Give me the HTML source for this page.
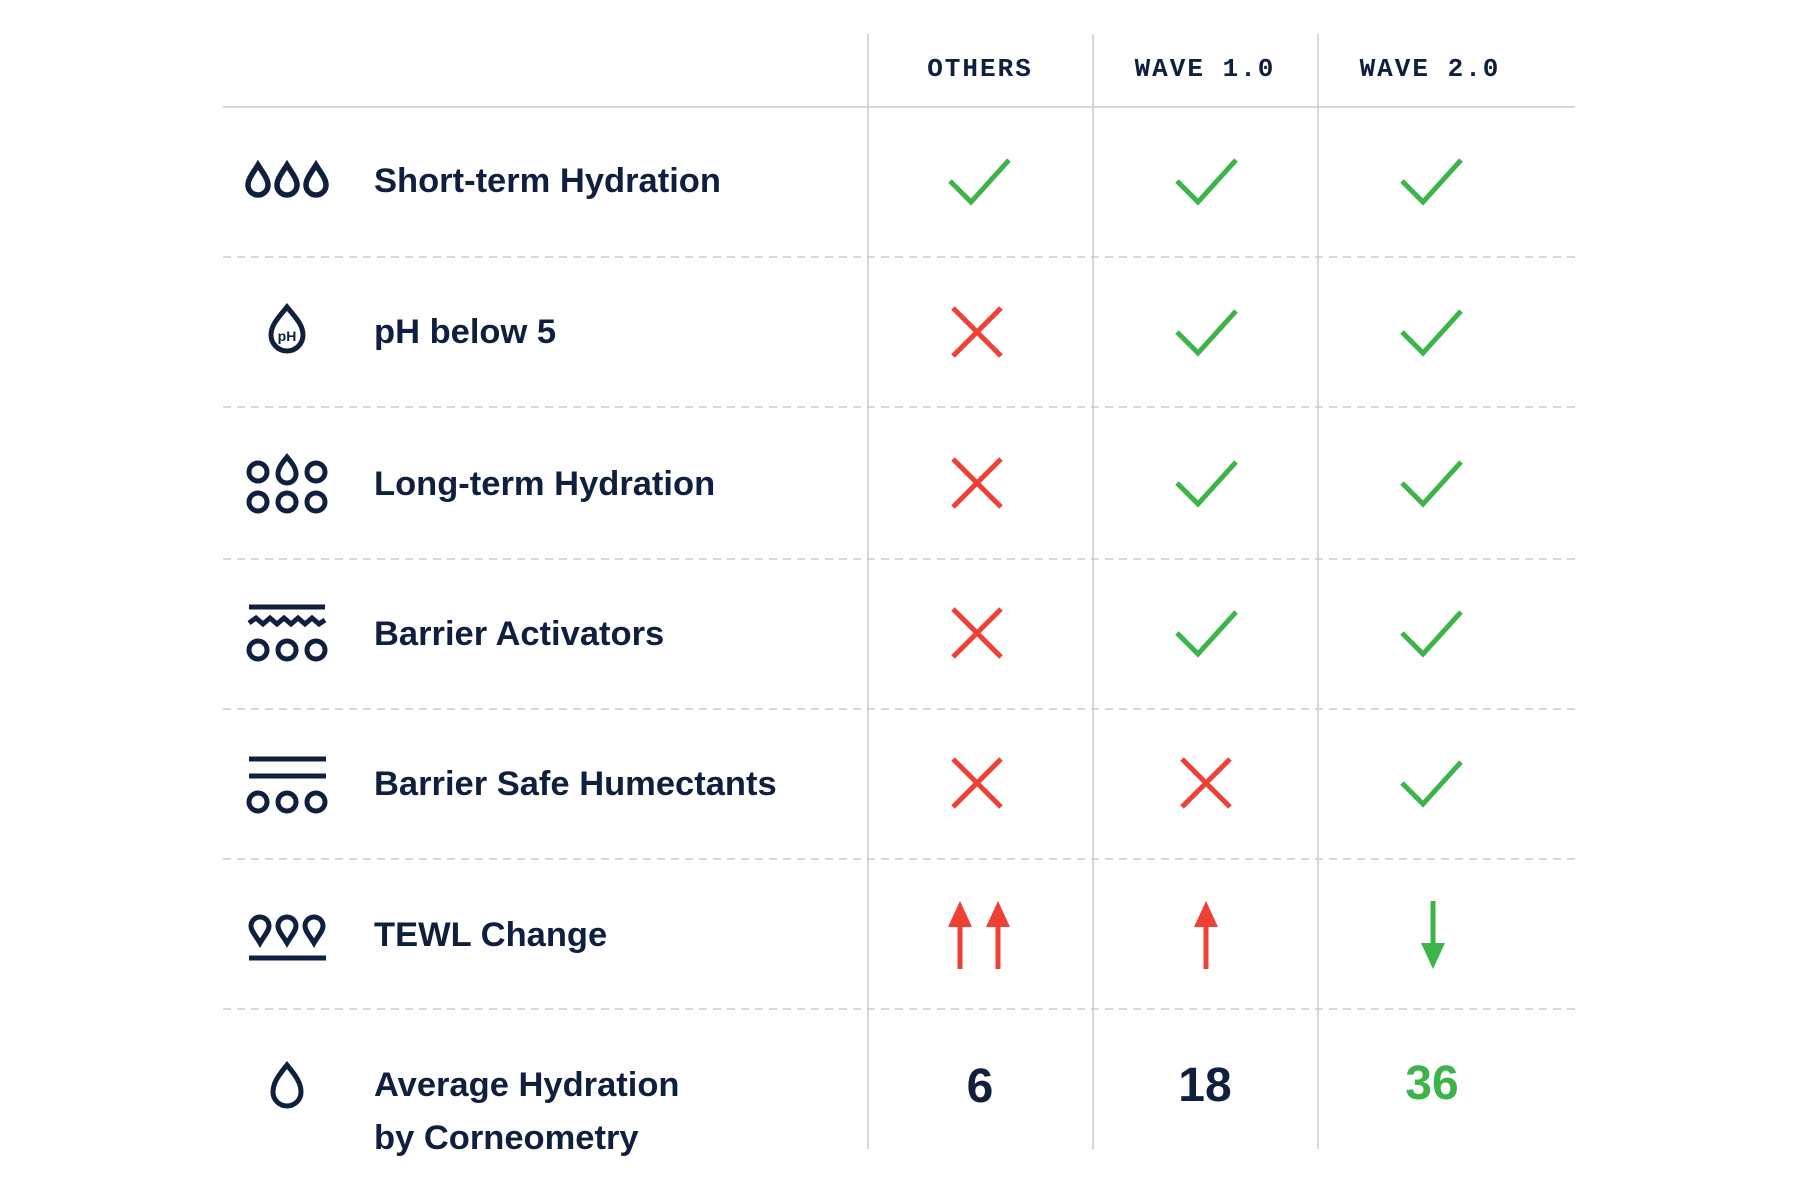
<!DOCTYPE html>
<html><head><meta charset="utf-8"><style>
html,body{margin:0;padding:0;background:#fff;}
svg{display:block}
.h{font-family:"Liberation Mono",monospace;font-weight:bold;font-size:26px;fill:#0f1f3d;letter-spacing:2px;text-anchor:middle}
.l{font-family:"Liberation Sans",sans-serif;font-weight:bold;font-size:34.5px;fill:#0f1f3d}
.n{font-family:"Liberation Sans",sans-serif;font-weight:bold;font-size:48px;text-anchor:middle}
</style></head><body>
<svg width="1800" height="1200" viewBox="0 0 1800 1200" xmlns="http://www.w3.org/2000/svg">
<defs>
<g id="ck"><polyline points="-30,0 -9,21 29,-21" fill="none" stroke="#3cb44a" stroke-width="5"/></g>
<g id="x"><path d="M-24,-24L24,24M24,-24L-24,24" stroke="#ee4035" stroke-width="5"/></g>
<g id="drop"><path d="M0,-15 C5,-7 10,-1 10,5 A10,10 0 0 1 -10,5 C-10,-1 -5,-7 0,-15Z" fill="none" stroke="#0f1f3d" stroke-width="5.5"/></g>
<g id="pin"><path d="M0,14 C-4,7 -9,2 -9,-3 A9,9 0 0 1 9,-3 C9,2 4,7 0,14Z" fill="none" stroke="#0f1f3d" stroke-width="5"/></g>
<g id="up"><path d="M0,-34 L12,-8 L2.5,-8 L2.5,34 L-2.5,34 L-2.5,-8 L-12,-8Z" fill="#ee4035"/></g>
</defs>
<g stroke="#cccccc" stroke-width="1.5">
<line x1="868" y1="34" x2="868" y2="1149"/>
<line x1="1093" y1="34" x2="1093" y2="1149"/>
<line x1="1318" y1="34" x2="1318" y2="1149"/>
<line x1="223" y1="107" x2="1575" y2="107"/>
</g>
<g stroke="#cccccc" stroke-width="1.5" stroke-dasharray="8,6">
<line x1="223" y1="257" x2="1575" y2="257"/>
<line x1="223" y1="407" x2="1575" y2="407"/>
<line x1="223" y1="559" x2="1575" y2="559"/>
<line x1="223" y1="709" x2="1575" y2="709"/>
<line x1="223" y1="859" x2="1575" y2="859"/>
<line x1="223" y1="1009" x2="1575" y2="1009"/>
</g>
<text class="h" x="980" y="76">OTHERS</text>
<text class="h" x="1205" y="76">WAVE 1.0</text>
<text class="h" x="1430" y="76">WAVE 2.0</text>
<text class="l" x="374" y="192">Short-term Hydration</text>
<text class="l" x="374" y="343">pH below 5</text>
<text class="l" x="374" y="495">Long-term Hydration</text>
<text class="l" x="374" y="645">Barrier Activators</text>
<text class="l" x="374" y="795">Barrier Safe Humectants</text>
<text class="l" x="374" y="946">TEWL Change</text>
<text class="l" x="374" y="1096">Average Hydration</text>
<text class="l" x="374" y="1149">by Corneometry</text>
<use href="#drop" x="258" y="180"/><use href="#drop" x="287" y="180"/><use href="#drop" x="316" y="180"/>
<path d="M287,307 C296,318 303,325 303,335 A16,16 0 0 1 271,335 C271,325 278,318 287,307Z" fill="none" stroke="#0f1f3d" stroke-width="5"/>
<text x="287" y="341" font-family="Liberation Sans,sans-serif" font-weight="bold" font-size="14" fill="#0f1f3d" text-anchor="middle">pH</text>
<g fill="none" stroke="#0f1f3d" stroke-width="5">
<circle cx="258" cy="472" r="9"/><circle cx="316" cy="472" r="9"/>
<circle cx="258" cy="502" r="9"/><circle cx="287" cy="502" r="9"/><circle cx="316" cy="502" r="9"/>
<path d="M287,457 C292,463 296,468 296,474 A9,9 0 0 1 278,474 C278,468 282,463 287,457Z"/>
<line x1="249" y1="607" x2="325" y2="607"/>
<polyline points="249,623 256,618 263,624 270,618 277,624 284,618 291,624 298,618 305,624 312,618 319,624 325,620"/>
<circle cx="258" cy="650" r="9"/><circle cx="287" cy="650" r="9"/><circle cx="316" cy="650" r="9"/>
<line x1="249" y1="759" x2="326" y2="759"/><line x1="249" y1="776" x2="326" y2="776"/>
<circle cx="258" cy="802" r="9"/><circle cx="287" cy="802" r="9"/><circle cx="316" cy="802" r="9"/>
<line x1="249" y1="958" x2="326" y2="958"/>
<path d="M287,1065 C296,1076 301,1083 301,1092 A14,14 0 0 1 273,1092 C273,1083 278,1076 287,1065Z"/>
</g>
<use href="#pin" x="260" y="929"/><use href="#pin" x="287" y="929"/><use href="#pin" x="314" y="929"/>
<use href="#ck" x="980" y="181"/><use href="#ck" x="1207" y="181"/><use href="#ck" x="1432" y="181"/>
<use href="#x" x="977" y="332"/><use href="#ck" x="1207" y="332"/><use href="#ck" x="1432" y="332"/>
<use href="#x" x="977" y="483"/><use href="#ck" x="1207" y="483"/><use href="#ck" x="1432" y="483"/>
<use href="#x" x="977" y="633"/><use href="#ck" x="1207" y="633"/><use href="#ck" x="1432" y="633"/>
<use href="#x" x="977" y="783"/><use href="#x" x="1206" y="783"/><use href="#ck" x="1432" y="783"/>
<use href="#up" x="960" y="935"/><use href="#up" x="998" y="935"/><use href="#up" x="1206" y="935"/>
<g transform="translate(1433,935) rotate(180)"><path d="M0,-34 L12,-8 L2.5,-8 L2.5,34 L-2.5,34 L-2.5,-8 L-12,-8Z" fill="#3cb44a"/></g>
<text class="n" x="980" y="1102" fill="#0f1f3d">6</text>
<text class="n" x="1205" y="1101" fill="#0f1f3d">18</text>
<text class="n" x="1432" y="1099" fill="#3cb44a">36</text>
</svg>
</body></html>
